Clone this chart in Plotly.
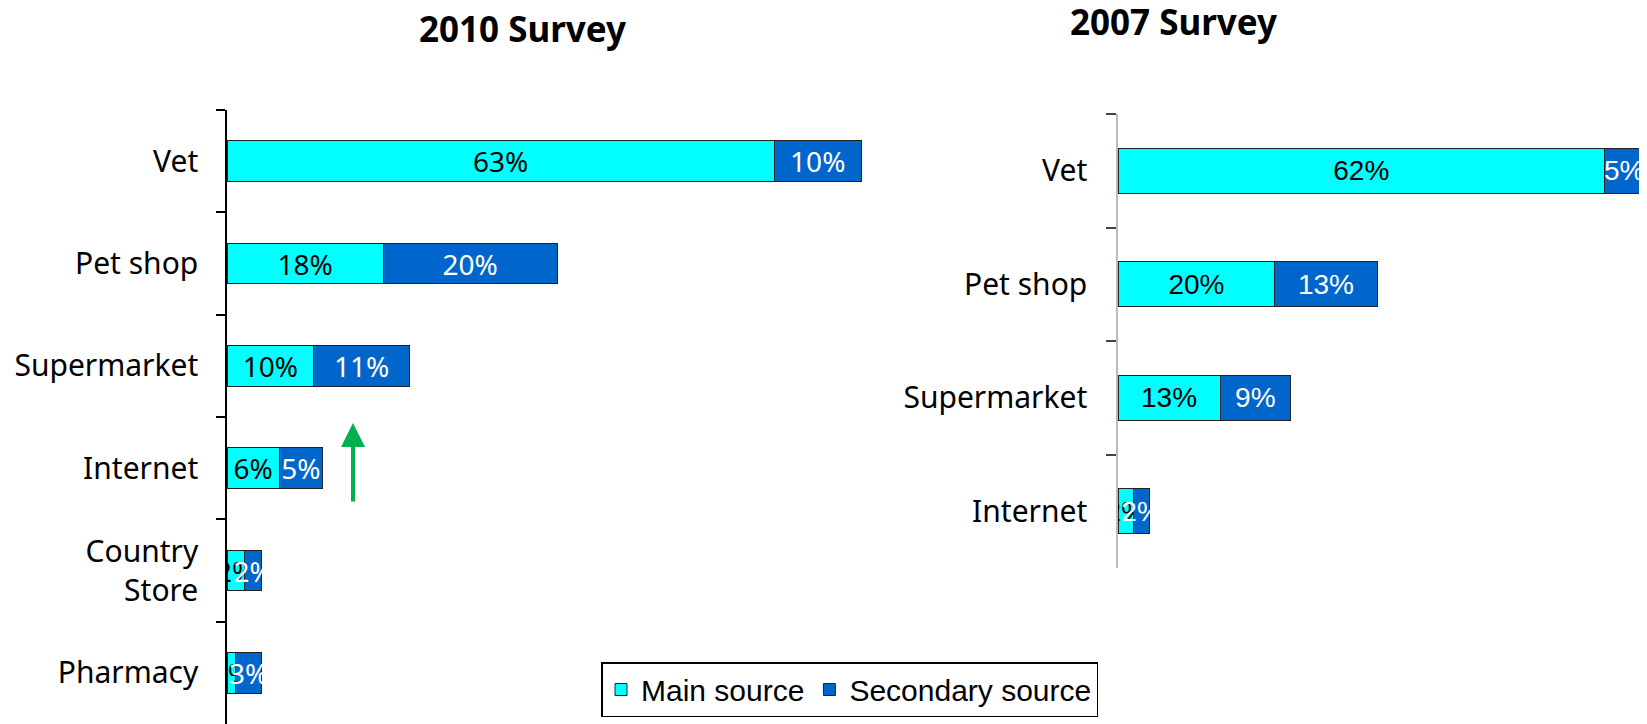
import plotly.graph_objects as go

# 2010 survey (left chart)
cats_2010 = ["Vet", "Pet shop", "Supermarket", "Internet", "Country<br>Store", "Pharmacy"]
main_2010 = [63, 18, 10, 6, 2, 1]
second_2010 = [10, 20, 11, 5, 2, 3]

# 2007 survey (right chart)
cats_2007 = ["Vet", "Pet shop", "Supermarket", "Internet"]
main_2007 = [62, 20, 13, 2]
second_2007 = [5, 13, 9, 2]

CYAN = "#00FFFF"
BLUE = "#0066CC"
W, H = 1647, 724
OFF = 8  # default page body margin
FW, FH = W - OFF, H - OFF


def px_x(x):
    # page x pixel -> paper fraction
    return (x - OFF) / FW


def px_y(y):
    # page y pixel (from top) -> paper fraction (from bottom)
    return (H - y) / FH


fig = go.Figure()

# left chart bars
fig.add_trace(go.Bar(y=cats_2010, x=main_2010, orientation="h", name="Main source",
                     marker=dict(color=CYAN, line=dict(color="#222", width=1)),
                     width=0.4, text=[f"{v}%" for v in main_2010], textposition="inside",
                     insidetextanchor="middle", textangle=0,
                     textfont=dict(family="Noto Sans", size=28, color="black"),
                     xaxis="x", yaxis="y", legendgroup="main"))
fig.add_trace(go.Bar(y=cats_2010, x=second_2010, orientation="h", name="Secondary source",
                     marker=dict(color=BLUE, line=dict(color="#222", width=1)),
                     width=0.4, text=[f"{v}%" for v in second_2010], textposition="inside",
                     insidetextanchor="middle", textangle=0,
                     textfont=dict(family="Noto Sans", size=28, color="white"),
                     xaxis="x", yaxis="y", legendgroup="second"))

# right chart bars
fig.add_trace(go.Bar(y=cats_2007, x=main_2007, orientation="h", name="Main source",
                     marker=dict(color=CYAN, line=dict(color="#222", width=1)),
                     width=0.4, text=[f"{v}%" for v in main_2007], textposition="inside",
                     insidetextanchor="middle", textangle=0,
                     textfont=dict(family="Liberation Sans", size=28, color="black"),
                     xaxis="x2", yaxis="y2", showlegend=False, legendgroup="main"))
fig.add_trace(go.Bar(y=cats_2007, x=second_2007, orientation="h", name="Secondary source",
                     marker=dict(color=BLUE, line=dict(color="#222", width=1)),
                     width=0.4, text=[f"{v}%" for v in second_2007], textposition="inside",
                     insidetextanchor="middle", textangle=0,
                     textfont=dict(family="Liberation Sans", size=28, color="white"),
                     xaxis="x2", yaxis="y2", showlegend=False, legendgroup="second"))

tickfont = dict(family="Noto Sans", size=30, color="black")

fig.update_layout(
    width=FW, height=FH,
    margin=dict(l=0, r=0, t=0, b=0),
    paper_bgcolor="white", plot_bgcolor="white",
    barmode="stack",
    uniformtext=dict(minsize=28, mode="show"),
    xaxis=dict(domain=[px_x(227), px_x(227 + 695)], range=[0, 80], visible=False),
    yaxis=dict(domain=[0, px_y(110)], range=[5.5, -0.5], type="category", automargin=False,
               showline=True, linecolor="black", linewidth=1.5,
               ticks="outside", ticklen=9, tickcolor="black", tickwidth=1.5,
               tickson="boundaries", tickfont=tickfont, ticklabelstandoff=21,
               showgrid=False, zeroline=False),
    xaxis2=dict(domain=[px_x(1118), 1.0], range=[0, 67.4], visible=False, anchor="y2"),
    yaxis2=dict(domain=[px_y(568), px_y(114)], range=[3.5, -0.5], type="category", anchor="x2",
                automargin=False,
                showline=True, linecolor="#bbbbbb", linewidth=1.5,
                ticks="outside", ticklen=10, tickcolor="#444", tickwidth=1.5,
                tickson="boundaries", tickfont=tickfont, ticklabelstandoff=23,
                showgrid=False, zeroline=False),
    legend=dict(orientation="h", x=px_x(601), y=px_y(662), xanchor="left", yanchor="top",
                bordercolor="black", borderwidth=1.5,
                font=dict(family="Liberation Sans", size=30, color="black"),
                itemclick=False),
    annotations=[
        dict(text="<b>2010 Survey</b>", x=px_x(522), y=px_y(28), xref="paper", yref="paper",
             showarrow=False, font=dict(family="Noto Sans", size=35, color="black"),
             xanchor="center", yanchor="middle"),
        dict(text="<b>2007 Survey</b>", x=px_x(1173), y=px_y(22), xref="paper", yref="paper",
             showarrow=False, font=dict(family="Noto Sans", size=35, color="black"),
             xanchor="center", yanchor="middle"),
        dict(text="", x=px_x(353), y=px_y(423), xref="paper", yref="paper",
             showarrow=True, ax=0, ay=80, arrowhead=2, arrowsize=1.2, arrowwidth=4,
             arrowcolor="#00B050"),
    ],
)

fig.write_html("out.html")
